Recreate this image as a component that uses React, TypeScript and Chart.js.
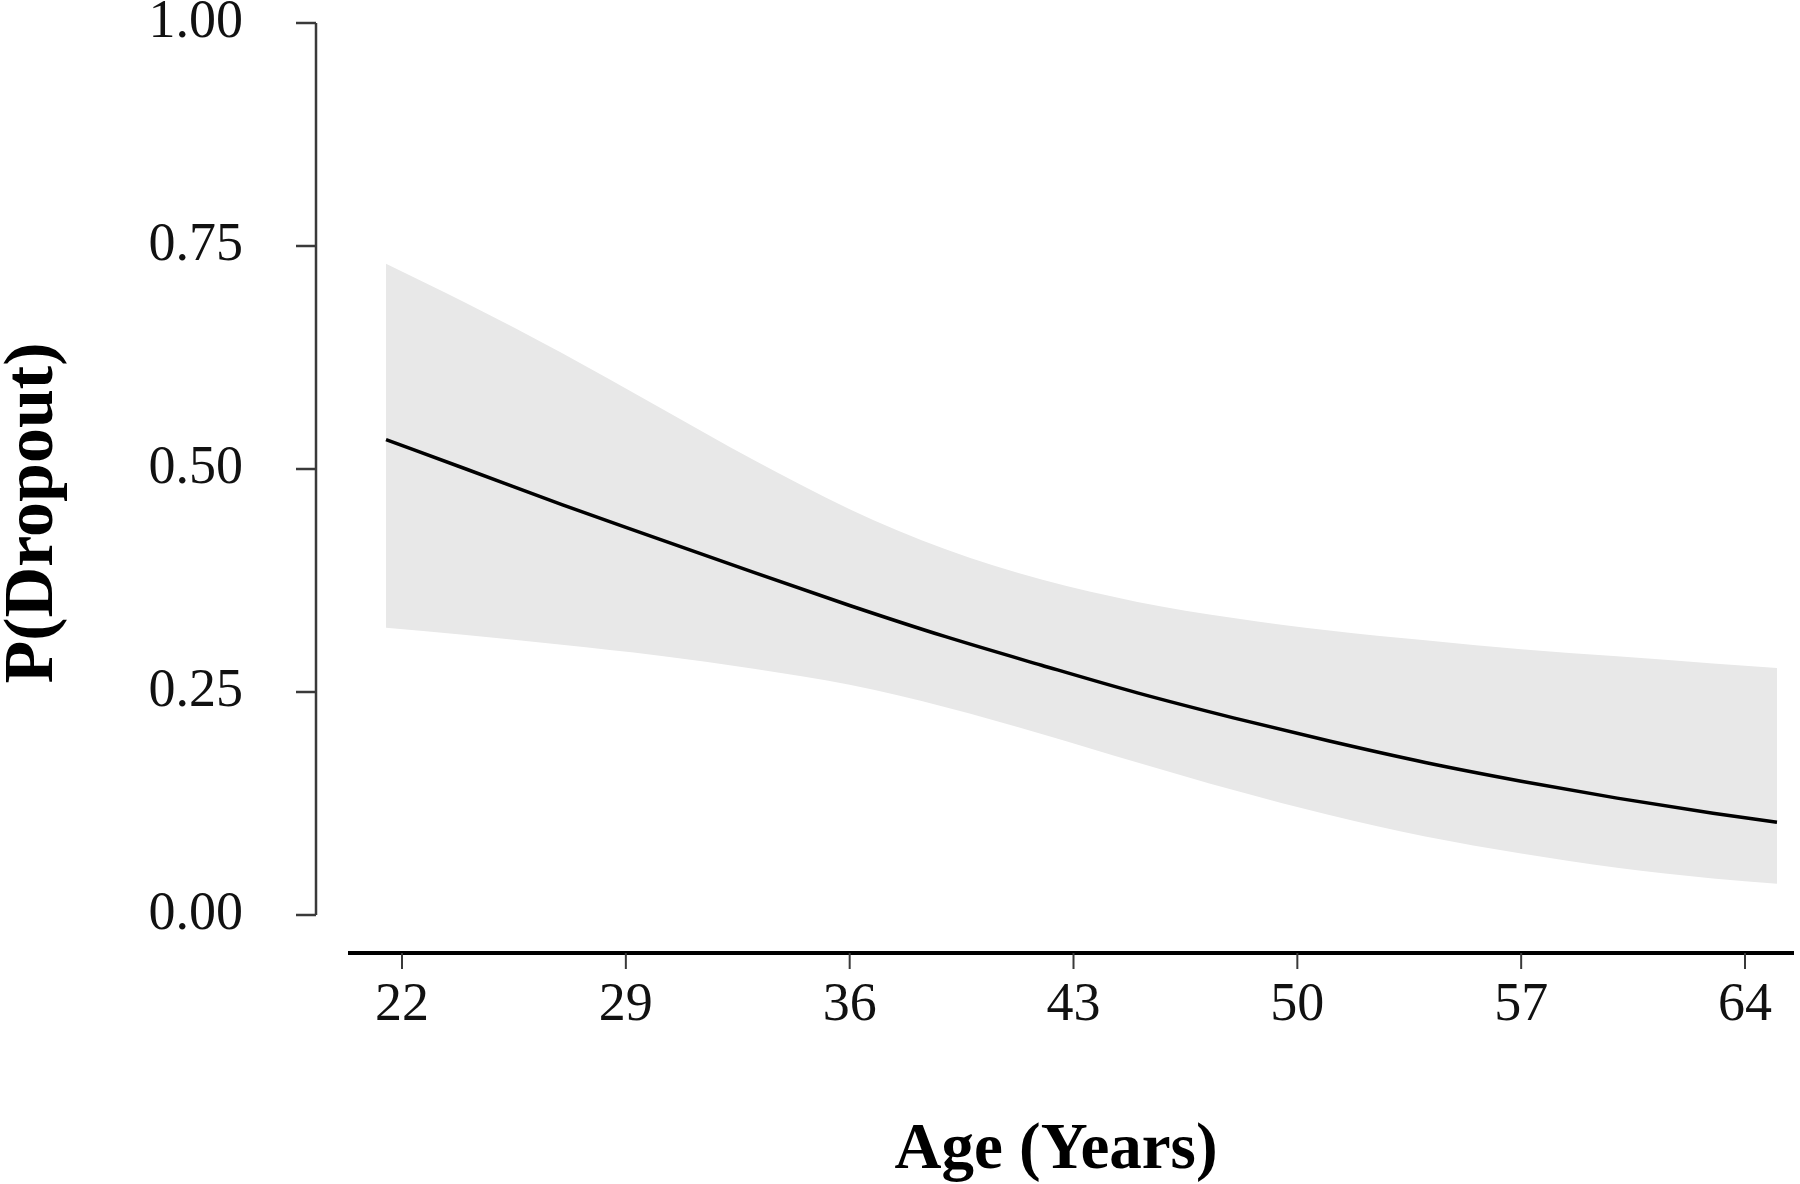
import React, { useEffect, useRef } from "react";
import { Chart, registerables } from "chart.js";

Chart.register(...registerables);

const ages = [21.5, 24, 27, 30, 33, 36, 39, 42, 45, 48, 51, 54, 57, 60, 63, 65];
const fitted = [0.533, 0.5, 0.46, 0.422, 0.384, 0.347, 0.312, 0.28, 0.249, 0.221, 0.195, 0.171, 0.15, 0.131, 0.114, 0.104];
const upperCI = [0.73, 0.686, 0.63, 0.57, 0.51, 0.455, 0.41, 0.376, 0.351, 0.333, 0.319, 0.308, 0.298, 0.29, 0.282, 0.277];
const lowerCI = [0.322, 0.314, 0.303, 0.291, 0.276, 0.258, 0.233, 0.203, 0.171, 0.14, 0.112, 0.088, 0.069, 0.053, 0.041, 0.035];
const xTicks = [22, 29, 36, 43, 50, 57, 64];
const yTicks = [0, 0.25, 0.5, 0.75, 1];
const xTitle = "Age (Years)";
const yTitle = "P(Dropout)";

const SERIF = '"Liberation Serif", "Times New Roman", serif';

const axesPlugin = {
  id: "rStyleAxes",
  afterDraw(chart: any) {
    const { ctx, chartArea, scales } = chart;
    const xs = scales.x;
    const ys = scales.y;
    ctx.save();
    // y axis line + ticks
    ctx.strokeStyle = "#3a3a3a";
    ctx.lineWidth = 2.5;
    ctx.beginPath();
    ctx.moveTo(chartArea.left, ys.getPixelForValue(1));
    ctx.lineTo(chartArea.left, ys.getPixelForValue(0));
    ctx.stroke();
    yTicks.forEach((v) => {
      const py = ys.getPixelForValue(v);
      ctx.beginPath();
      ctx.moveTo(chartArea.left - 20, py);
      ctx.lineTo(chartArea.left, py);
      ctx.stroke();
    });
    // x axis line + ticks
    const ay = chartArea.bottom + 38;
    ctx.strokeStyle = "#000";
    ctx.lineWidth = 4;
    ctx.beginPath();
    ctx.moveTo(chartArea.left + 32, ay);
    ctx.lineTo(chartArea.right - 2, ay);
    ctx.stroke();
    ctx.strokeStyle = "#3a3a3a";
    ctx.lineWidth = 2;
    xTicks.forEach((v) => {
      const px = xs.getPixelForValue(v);
      ctx.beginPath();
      ctx.moveTo(px, ay);
      ctx.lineTo(px, ay + 16);
      ctx.stroke();
    });
    // y title
    const cy = (chartArea.top + chartArea.bottom) / 2 + 44;
    ctx.translate(34, cy);
    ctx.rotate(-Math.PI / 2);
    ctx.font = "bold 70px " + SERIF;
    ctx.fillStyle = "#000";
    ctx.textAlign = "center";
    ctx.textBaseline = "middle";
    ctx.fillText(yTitle, 0, 0);
    ctx.restore();
  },
};

export default function App() {
  const ref = useRef<HTMLCanvasElement | null>(null);

  useEffect(() => {
    if (!ref.current) return;
    const toPts = (arr: number[]) => ages.map((a, i) => ({ x: a, y: arr[i] }));
    const chart = new Chart(ref.current, {
      type: "line",
      data: {
        datasets: [
          {
            label: "Fitted",
            data: toPts(fitted),
            borderColor: "#000",
            borderWidth: 3.5,
            pointRadius: 0,
            fill: false,
            cubicInterpolationMode: "monotone",
          },
          {
            label: "Upper",
            data: toPts(upperCI),
            borderWidth: 0,
            borderColor: "rgba(0,0,0,0)",
            backgroundColor: "#e8e8e8",
            pointRadius: 0,
            fill: { target: 2 },
            cubicInterpolationMode: "monotone",
          },
          {
            label: "Lower",
            data: toPts(lowerCI),
            borderWidth: 0,
            borderColor: "rgba(0,0,0,0)",
            pointRadius: 0,
            fill: false,
            cubicInterpolationMode: "monotone",
          },
        ],
      },
      options: {
        animation: false,
        responsive: false,
        layout: { padding: { left: 0, top: 23, right: 4, bottom: 0 } },
        plugins: { legend: { display: false }, tooltip: { enabled: false } },
        scales: {
          x: {
            type: "linear",
            min: 19.31,
            max: 65.595,
            afterBuildTicks: (s: any) => {
              s.ticks = xTicks.map((v) => ({ value: v }));
            },
            afterFit: (s: any) => {
              s.height = 269;
              s.paddingLeft = 0;
              s.paddingRight = 0;
              s.paddingTop = 0;
              s.paddingBottom = 0;
            },
            grid: { display: false, drawTicks: false },
            border: { display: false },
            ticks: {
              padding: 58,
              color: "#111",
              font: { family: SERIF, size: 54 },
              maxRotation: 0,
              autoSkip: false,
              callback: (v: any) => String(v),
            },
            title: {
              display: true,
              text: xTitle,
              color: "#000",
              padding: { top: 0, bottom: -6 },
              font: { family: SERIF, size: 65, weight: "bold" },
            },
          },
          y: {
            type: "linear",
            min: 0,
            max: 1,
            afterBuildTicks: (s: any) => {
              s.ticks = yTicks.map((v) => ({ value: v }));
            },
            afterFit: (s: any) => {
              s.width = 316;
              s.paddingLeft = 0;
              s.paddingRight = 0;
              s.paddingTop = 0;
              s.paddingBottom = 0;
            },
            grid: { display: false, drawTicks: false },
            border: { display: false },
            ticks: {
              padding: 73,
              color: "#111",
              font: { family: SERIF, size: 54 },
              autoSkip: false,
              callback: (v: any) => Number(v).toFixed(2),
            },
          },
        },
      },
      plugins: [axesPlugin],
    });
    return () => chart.destroy();
  }, []);

  return (
    <div style={{ position: "absolute", left: 0, top: 0, width: 1800, height: 1184, background: "#fff" }}>
      <canvas ref={ref} width={1800} height={1184} style={{ display: "block" }} />
    </div>
  );
}
